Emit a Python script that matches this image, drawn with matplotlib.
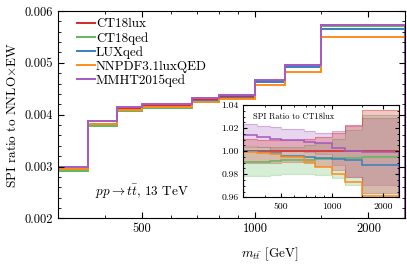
import matplotlib
matplotlib.use("Agg")
import matplotlib.pyplot as plt
from matplotlib.ticker import FixedLocator, NullFormatter, FixedFormatter, FormatStrFormatter, MultipleLocator
from matplotlib.lines import Line2D

plt.rcParams['font.family'] = ['cmr10', 'DejaVu Serif']
plt.rcParams['mathtext.fontset'] = 'cm'
plt.rcParams['axes.formatter.use_mathtext'] = True

# ---- data ----
edges = [300, 360, 430, 500, 680, 800, 1000, 1200, 1500, 2500]
ct18lux_main = [0.00295, 0.003822, 0.004104, 0.004166, 0.004285, 0.004356, 0.00466, 0.00496, 0.00573]

labels = ["CT18lux", "CT18qed", "LUXqed", "NNPDF3.1luxQED", "MMHT2015qed"]
colors = ["#d62728", "#5fb85f", "#3a7fc0", "#ff8c1a", "#a45bbf"]

ratio_ct18lux = [1.0, 1.0, 1.0, 1.0, 1.0, 1.0, 1.0, 1.0, 1.0]
ratio_ct18qed = [0.991, 0.991, 0.9915, 0.992, 0.9925, 0.993, 0.994, 0.9945, 0.995]
ratio_luxqed = [1.000, 0.999, 0.998, 0.996, 0.995, 0.994, 0.9935, 0.992, 0.988]
ratio_nnpdf = [0.9996, 0.9987, 0.9973, 0.9952, 0.991, 0.986, 0.980, 0.9736, 0.961]
ratio_mmht = [1.014, 1.0126, 1.011, 1.0097, 1.0083, 1.0068, 1.003, 1.0, 0.9996]

err_ct18lux = [0.0103, 0.0101, 0.0099, 0.0098, 0.0103, 0.0125, 0.016, 0.0225, 0.036]
err_ct18qed = [0.0125, 0.0123, 0.012, 0.012, 0.0125, 0.014, 0.017, 0.024, 0.036]
err_luxqed = [0.001, 0.001, 0.001, 0.001, 0.001, 0.001, 0.001, 0.001, 0.001]
err_nnpdf = [0.0005, 0.0005, 0.0005, 0.0005, 0.0005, 0.0005, 0.0005, 0.0005, 0.0005]
err_mmht = [0.0096, 0.0094, 0.0098, 0.0093, 0.0088, 0.0092, 0.0146, 0.022, 0.029]

ratios = [ratio_ct18lux, ratio_ct18qed, ratio_luxqed, ratio_nnpdf, ratio_mmht]
errs = [err_ct18lux, err_ct18qed, err_luxqed, err_nnpdf, err_mmht]

fig = plt.figure(figsize=(4.07, 2.65), dpi=100)
ax = fig.add_axes([0.1425, 0.1755, 0.8525, 0.783])

for lab, col, r in zip(labels, colors, ratios):
    vals = [b * q for b, q in zip(ct18lux_main, r)]
    ax.stairs(vals, edges, color=col, lw=1.4, label=lab)

ax.set_xscale('log')
ax.set_xlim(300, 2500)
ax.set_ylim(0.002, 0.006)
ax.xaxis.set_major_locator(FixedLocator([500, 1000, 2000]))
ax.xaxis.set_major_formatter(FixedFormatter(["500", "1000", "2000"]))
ax.xaxis.set_minor_locator(FixedLocator([300, 400, 600, 700, 800, 900, 1500]))
ax.xaxis.set_minor_formatter(NullFormatter())
ax.yaxis.set_major_locator(MultipleLocator(0.001))
ax.yaxis.set_minor_locator(MultipleLocator(0.0002))
ax.yaxis.set_major_formatter(FormatStrFormatter('%.3f'))
ax.tick_params(which='both', direction='in', top=True, right=True, labelsize=9)
ax.tick_params(which='major', length=4)
ax.tick_params(which='minor', length=2)
ax.set_ylabel(r'SPI ratio to NNLO$\times$EW', fontsize=9.5, labelpad=4)
ax.set_xlabel(r'$m_{t\bar{t}}$ [GeV]', fontsize=9.5)
ax.xaxis.set_label_coords(0.61, -0.13)

handles = [Line2D([], [], color=c, lw=1.4) for c in colors]
ax.legend(handles, labels, loc='upper left', bbox_to_anchor=(0.035, 1.0), frameon=False,
          fontsize=9.5, handlelength=1.3, handletextpad=0.1, labelspacing=0.12,
          borderaxespad=0.15)

ax.text(0.107, 0.128, r'$pp\rightarrow t\bar{t}$, 13 TeV', transform=ax.transAxes,
        fontsize=9.5, va='center', ha='left')

# ---- inset ----
ins = fig.add_axes([0.598, 0.2555, 0.383, 0.348])
for i in [4, 1, 0]:
    lo = [r - e for r, e in zip(ratios[i], errs[i])]
    hi = [r + e for r, e in zip(ratios[i], errs[i])]
    ins.stairs(hi, edges, baseline=lo, fill=True, color=colors[i], alpha=0.25, lw=0)
    ins.stairs(hi, edges, color=colors[i], alpha=0.35, lw=0.8)
    ins.stairs(lo, edges, color=colors[i], alpha=0.35, lw=0.8)
for lab, col, r in zip(labels, colors, ratios):
    ins.stairs(r, edges, color=col, lw=1.1)

ins.set_xscale('log')
ins.set_xlim(300, 2500)
ins.set_ylim(0.96, 1.04)
ins.xaxis.set_major_locator(FixedLocator([500, 1000, 2000]))
ins.xaxis.set_major_formatter(FixedFormatter(["500", "1000", "2000"]))
ins.xaxis.set_minor_locator(FixedLocator([300, 400, 600, 700, 800, 900, 1500]))
ins.xaxis.set_minor_formatter(NullFormatter())
ins.yaxis.set_major_locator(MultipleLocator(0.02))
ins.yaxis.set_minor_locator(MultipleLocator(0.005))
ins.yaxis.set_major_formatter(FormatStrFormatter('%.2f'))
ins.tick_params(which='both', direction='in', top=True, right=True, labelsize=7)
ins.tick_params(which='major', length=3)
ins.tick_params(which='minor', length=1.5)
ins.text(0.06, 0.87, 'SPI Ratio to CT18lux', transform=ins.transAxes, fontsize=6,
         va='center', ha='left')

fig.savefig('out.png', dpi=100)
